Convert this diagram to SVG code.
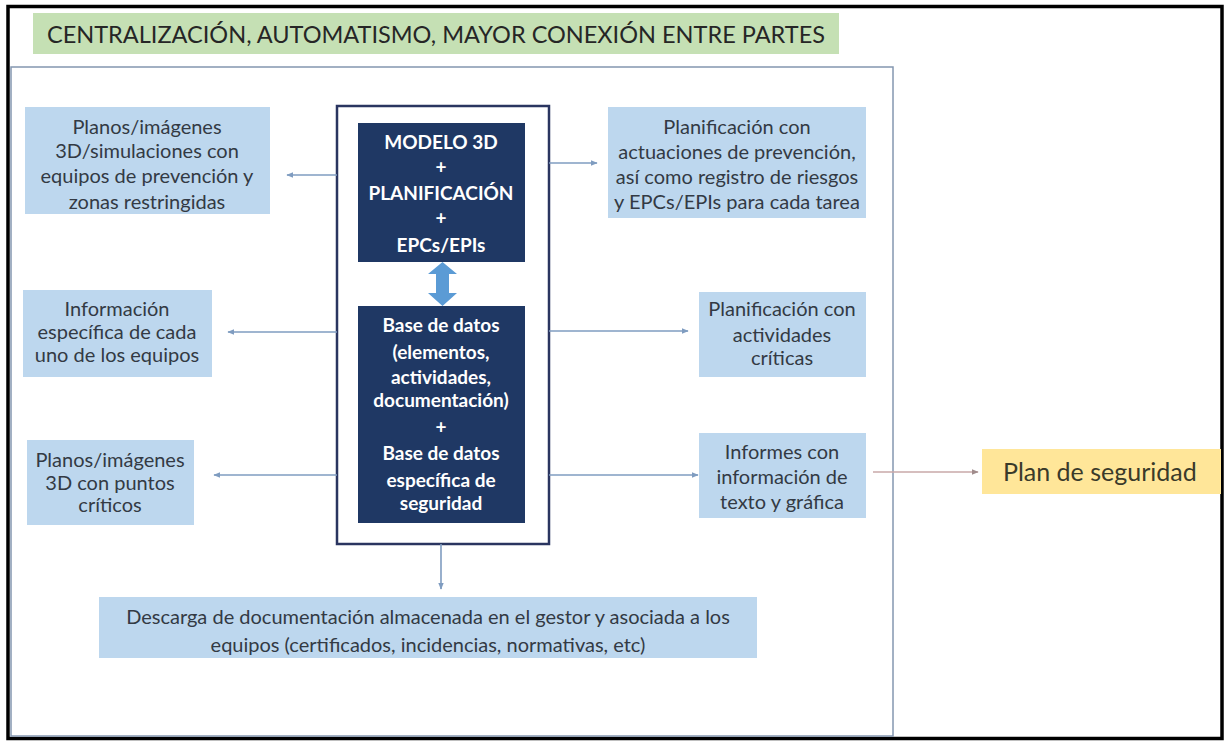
<svg xmlns="http://www.w3.org/2000/svg" width="1230" height="747" viewBox="0 0 1230 747">
<defs>
<style>
.lb{fill:#bdd7ee;}
.t{font-family:Lato,"Open Sans","Liberation Sans",sans-serif;font-size:20px;fill:#333a44;text-anchor:middle;}
.w{font-family:Lato,"Open Sans","Liberation Sans",sans-serif;font-size:19px;font-weight:bold;fill:#ffffff;text-anchor:middle;}
.c{stroke:#7f9cc0;stroke-width:1.6;fill:none;}
.dk{fill:#1f3864;}
</style>
<marker id="ah" viewBox="0 0 10 10" refX="9" refY="5" markerWidth="7" markerHeight="7" markerUnits="userSpaceOnUse" orient="auto">
<path d="M0,1 L10,5 L0,9 Z" fill="#7f9cc0"/>
</marker>
<marker id="ah2" viewBox="0 0 10 10" refX="9" refY="5" markerWidth="7" markerHeight="7" markerUnits="userSpaceOnUse" orient="auto">
<path d="M0,1 L10,5 L0,9 Z" fill="#a08c8c"/>
</marker>
</defs>
<rect x="0" y="0" width="1230" height="747" fill="#ffffff"/>
<rect x="8" y="6.5" width="1214" height="732" fill="none" stroke="#000000" stroke-width="3.5"/>

<g id="title">
<rect x="33" y="13" width="806" height="41" fill="#c5e0b4"/>
<text x="436" y="43" font-family="Lato,'Open Sans','Liberation Sans',sans-serif" font-size="24" fill="#262626" text-anchor="middle" textLength="778" lengthAdjust="spacingAndGlyphs">CENTRALIZACIÓN, AUTOMATISMO, MAYOR CONEXIÓN ENTRE PARTES</text>
</g>

<g id="content-frame">
<rect x="11" y="67" width="882" height="669" fill="none" stroke="#8497b0" stroke-width="1.5"/>
</g>

<g id="central">
<rect x="337" y="106" width="212" height="438" fill="#ffffff" stroke="#2a3560" stroke-width="2.5"/>
</g>

<g id="modelo">
<rect class="dk" x="358" y="123" width="167" height="139"/>
<text class="w" x="441" y="149">MODELO 3D</text>
<text class="w" x="441" y="174">+</text>
<text class="w" x="441" y="200">PLANIFICACIÓN</text>
<text class="w" x="441" y="225">+</text>
<text class="w" x="441" y="252">EPCs/EPIs</text>
</g>

<g id="bd">
<rect class="dk" x="358" y="306" width="167" height="217"/>
<text class="w" x="441" y="332">Base de datos</text>
<text class="w" x="441" y="359">(elementos,</text>
<text class="w" x="441" y="384">actividades,</text>
<text class="w" x="441" y="407">documentación)</text>
<text class="w" x="441" y="434">+</text>
<text class="w" x="441" y="460">Base de datos</text>
<text class="w" x="441" y="487">específica de</text>
<text class="w" x="441" y="510">seguridad</text>
</g>

<g id="l1">
<rect class="lb" x="25" y="107" width="245" height="107"/>
<text class="t" x="147" y="134">Planos/imágenes</text>
<text class="t" x="147" y="158">3D/simulaciones con</text>
<text class="t" x="147" y="183">equipos de prevención y</text>
<text class="t" x="147" y="209">zonas restringidas</text>
</g>

<g id="l2">
<rect class="lb" x="23" y="290" width="189" height="87"/>
<text class="t" x="117" y="316">Información</text>
<text class="t" x="117" y="339">específica de cada</text>
<text class="t" x="117" y="362">uno de los equipos</text>
</g>

<g id="l3">
<rect class="lb" x="27" y="440" width="167" height="85"/>
<text class="t" x="110" y="467">Planos/imágenes</text>
<text class="t" x="110" y="490">3D con puntos</text>
<text class="t" x="110" y="512">críticos</text>
</g>

<g id="r1">
<rect class="lb" x="608" y="107" width="258" height="111"/>
<text class="t" x="737" y="134">Planificación con</text>
<text class="t" x="737" y="159">actuaciones de prevención,</text>
<text class="t" x="737" y="184">así como registro de riesgos</text>
<text class="t" x="737" y="209">y EPCs/EPIs para cada tarea</text>
</g>

<g id="r2">
<rect class="lb" x="699" y="292" width="167" height="85"/>
<text class="t" x="782" y="316">Planificación con</text>
<text class="t" x="782" y="342">actividades</text>
<text class="t" x="782" y="365">críticas</text>
</g>

<g id="r3">
<rect class="lb" x="699" y="433" width="167" height="85"/>
<text class="t" x="782" y="459">Informes con</text>
<text class="t" x="782" y="484">información de</text>
<text class="t" x="782" y="509">texto y gráfica</text>
</g>

<g id="bottom">
<rect class="lb" x="99" y="597" width="658" height="61"/>
<text class="t" x="428" y="624">Descarga de documentación almacenada en el gestor y asociada a los</text>
<text class="t" x="428" y="652">equipos (certificados, incidencias, normativas, etc)</text>
</g>

<g id="plan">
<rect x="982" y="449" width="239" height="45" fill="#ffe699"/>
<text x="1003" y="481" font-family="Lato,'Open Sans','Liberation Sans',sans-serif" font-size="25" fill="#3a3a2a">Plan de seguridad</text>
</g>

<g id="connectors">
<line class="c" x1="337" y1="175" x2="287" y2="175" marker-end="url(#ah)"/>
<line class="c" x1="337" y1="332" x2="228" y2="332" marker-end="url(#ah)"/>
<line class="c" x1="337" y1="475" x2="214" y2="475" marker-end="url(#ah)"/>
<line class="c" x1="549" y1="163" x2="597" y2="163" marker-end="url(#ah)"/>
<line class="c" x1="549" y1="331" x2="688" y2="331" marker-end="url(#ah)"/>
<line class="c" x1="549" y1="475" x2="698" y2="475" marker-end="url(#ah)"/>
<line class="c" x1="441" y1="544" x2="441" y2="589" marker-end="url(#ah)"/>
<line x1="873" y1="472" x2="978" y2="472" stroke="#c9a9a9" stroke-width="1.3" marker-end="url(#ah2)"/>
<path d="M442.5,262 L457,274 L449,274 L449,293 L457,293 L442.5,306 L428,293 L436,293 L436,274 L428,274 Z" fill="#5b9bd5"/>
</g>
</svg>
